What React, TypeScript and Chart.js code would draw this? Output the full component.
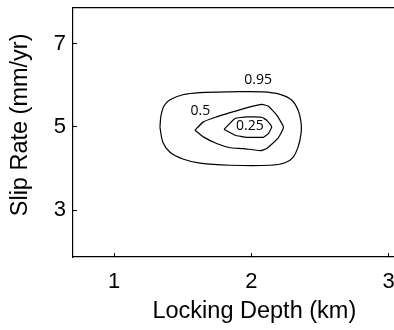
import { useEffect, useRef } from "react";
import { Chart, registerables } from "chart.js";

Chart.register(...registerables);

// Axis ranges and tick values
const depthRange = [0.7, 3.04];
const rateRange = [1.88, 7.85];
const depthTicks = [1, 2, 3];
const rateTicks = [3, 5, 7];

const xTitle = "Locking Depth (km)";
const yTitle = "Slip Rate (mm/yr)";

// Contour levels and where their labels sit (km, mm/yr)
const contourLevels = ["0.95", "0.5", "0.25"];
const labelDepth = [2.049, 1.628, 1.99];
const labelRate = [6.12, 5.37, 5.03];

// 0.95 contour
const c95Depth = [1.334, 1.341, 1.363, 1.407, 1.501, 1.626, 1.845, 2.085, 2.21, 2.295, 2.341, 2.363, 2.363, 2.341, 2.304, 2.246, 2.136, 1.845, 1.626, 1.501, 1.407, 1.355, 1.334];
const c95Rate = [4.99, 5.26, 5.5, 5.65, 5.77, 5.82, 5.84, 5.84, 5.78, 5.64, 5.4, 5.09, 4.85, 4.52, 4.27, 4.14, 4.08, 4.08, 4.13, 4.23, 4.39, 4.63, 4.99];

// 0.5 contour
const c50Depth = [1.589, 1.65, 1.747, 1.845, 1.991, 2.076, 2.122, 2.185, 2.234, 2.195, 2.112, 2.064, 1.942, 1.845, 1.747, 1.65, 1.589];
const c50Rate = [4.92, 5.12, 5.24, 5.34, 5.48, 5.54, 5.5, 5.28, 4.99, 4.73, 4.48, 4.43, 4.48, 4.5, 4.6, 4.76, 4.92];

// 0.25 contour
const c25Depth = [1.801, 1.881, 1.966, 2.076, 2.112, 2.149, 2.124, 2.088, 1.966, 1.881, 1.801];
const c25Rate = [4.94, 5.2, 5.24, 5.23, 5.16, 5.0, 4.84, 4.75, 4.75, 4.8, 4.94];

const toPoints = (xs: number[], ys: number[]) => xs.map((v, i) => ({ x: v, y: ys[i] }));

const contourStyle = (tension: number) => ({
  showLine: true,
  fill: false,
  pointRadius: 0,
  borderColor: "#000",
  borderWidth: 1.2,
  tension,
});

const tickFont = { family: "'Liberation Sans', Arial, sans-serif", size: 22 };

const annotate = {
  id: "annotate",
  afterDraw(chart: any) {
    const { ctx } = chart;
    const x = chart.scales.x;
    const y = chart.scales.y;
    ctx.save();
    ctx.fillStyle = "#000";
    ctx.textAlign = "center";
    ctx.textBaseline = "middle";
    ctx.font = '14px "Open Sans"';
    contourLevels.forEach((t, i) => {
      ctx.fillText(t, x.getPixelForValue(labelDepth[i]), y.getPixelForValue(labelRate[i]));
    });
    ctx.font = '23.5px "Liberation Sans"';
    ctx.fillText(xTitle, x.getPixelForValue(2) + 3, 312);
    ctx.translate(20.3, y.getPixelForValue(5) - 2);
    ctx.rotate(-Math.PI / 2);
    ctx.fillText(yTitle, 0, 0);
    ctx.restore();
  },
};

export default function App() {
  const canvasRef = useRef<HTMLCanvasElement | null>(null);

  useEffect(() => {
    const canvas = canvasRef.current;
    if (!canvas) return;
    const chart = new Chart(canvas, {
      type: "scatter",
      data: {
        datasets: [
          { label: contourLevels[0], data: toPoints(c95Depth, c95Rate), ...contourStyle(0.35) },
          { label: contourLevels[1], data: toPoints(c50Depth, c50Rate), ...contourStyle(0.15) },
          { label: contourLevels[2], data: toPoints(c25Depth, c25Rate), ...contourStyle(0.1) },
        ],
      },
      options: {
        responsive: false,
        animation: false,
        devicePixelRatio: 1,
        layout: { padding: { top: 8, left: 0, right: 0, bottom: 0 } },
        plugins: { legend: { display: false }, tooltip: { enabled: false } },
        scales: {
          x: {
            type: "linear",
            position: "bottom",
            min: depthRange[0],
            max: depthRange[1],
            afterBuildTicks: (s: any) => {
              s.ticks = depthTicks.map((v) => ({ value: v }));
            },
            ticks: { font: tickFont, color: "#000", padding: 16, maxRotation: 0 },
            grid: {
              display: true,
              drawOnChartArea: false,
              drawTicks: true,
              tickLength: -4,
              tickColor: "#000",
              tickWidth: 1,
            },
            border: { display: true, color: "#000", width: 1.2 },
            afterFit: (s: any) => {
              s.height = 73;
              s.paddingLeft = 0;
              s.paddingRight = 0;
            },
          },
          xTop: {
            type: "linear",
            position: "top",
            display: true,
            ticks: { display: false },
            grid: { display: false },
            border: { display: true, color: "#000", width: 1.2 },
            afterFit: (s: any) => {
              s.height = 0;
              s.paddingLeft = 0;
              s.paddingRight = 0;
            },
          },
          y: {
            type: "linear",
            position: "left",
            min: rateRange[0],
            max: rateRange[1],
            afterBuildTicks: (s: any) => {
              s.ticks = rateTicks.map((v) => ({ value: v }));
            },
            ticks: { font: tickFont, color: "#000", padding: 11 },
            grid: {
              display: true,
              drawOnChartArea: false,
              drawTicks: true,
              tickLength: -4,
              tickColor: "#000",
              tickWidth: 1,
            },
            border: { display: true, color: "#000", width: 1.2 },
            afterFit: (s: any) => {
              s.width = 73;
              s.paddingTop = 0;
              s.paddingBottom = 0;
            },
          },
        },
      },
      plugins: [annotate],
    } as any);
    return () => chart.destroy();
  }, []);

  return (
    <div
      style={{
        position: "fixed",
        left: 0,
        top: 0,
        width: 394,
        height: 330,
        overflow: "hidden",
        background: "#fff",
      }}
    >
      <canvas ref={canvasRef} width={394} height={330} style={{ display: "block" }} />
    </div>
  );
}
